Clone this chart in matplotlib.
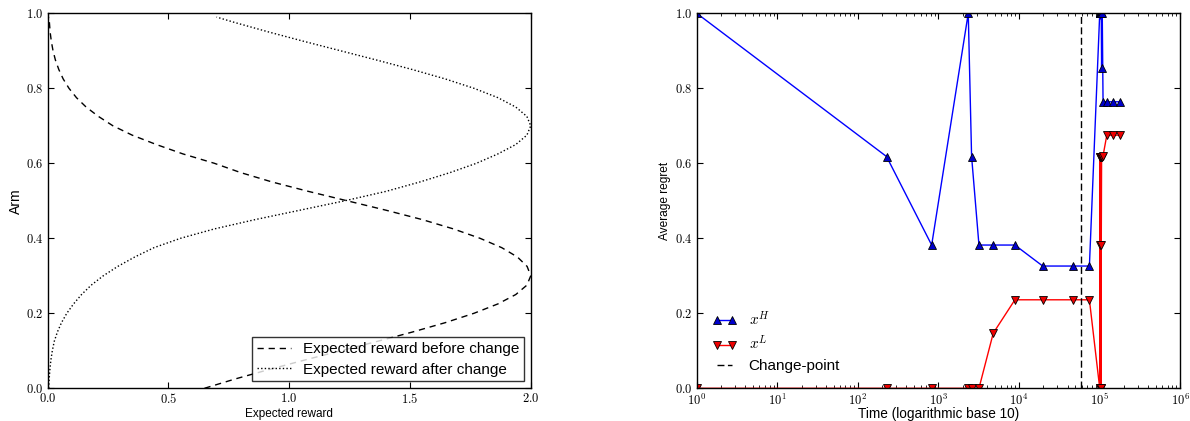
import numpy as np
import matplotlib
matplotlib.use('Agg')
import matplotlib.pyplot as plt
from matplotlib.ticker import FuncFormatter, FixedLocator, LogLocator, NullFormatter

plt.rcParams['font.family'] = 'Liberation Sans'
plt.rcParams['mathtext.fontset'] = 'cm'

# left panel: expected reward per arm
arm = [0.0, 0.025, 0.05, 0.075, 0.1, 0.125, 0.15, 0.175, 0.2, 0.225, 0.25, 0.275,
       0.3, 0.325, 0.35, 0.375, 0.4, 0.425, 0.45, 0.475, 0.5, 0.525, 0.55, 0.575,
       0.6, 0.625, 0.65, 0.675, 0.7, 0.725, 0.75, 0.775, 0.8, 0.825, 0.85, 0.875,
       0.9, 0.925, 0.95, 0.975, 0.99]
reward_before = [0.649, 0.777, 0.916, 1.062, 1.213, 1.364, 1.510, 1.646, 1.765, 1.864,
                 1.938, 1.984, 2.0, 1.985, 1.945, 1.88, 1.79, 1.68, 1.55, 1.40,
                 1.24, 1.08, 0.93, 0.80, 0.69, 0.56, 0.45, 0.35, 0.27, 0.21,
                 0.159, 0.119, 0.088, 0.064, 0.046, 0.032, 0.022, 0.015, 0.010, 0.007,
                 0.005]
reward_after = [0.004, 0.006, 0.009, 0.013, 0.019, 0.027, 0.040, 0.057, 0.079, 0.107,
                0.14, 0.18, 0.23, 0.29, 0.36, 0.44, 0.55, 0.69, 0.86, 1.045,
                1.23, 1.40, 1.54, 1.665, 1.775, 1.864, 1.938, 1.984, 2.0, 1.984,
                1.938, 1.864, 1.765, 1.646, 1.510, 1.364, 1.213, 1.062, 0.916, 0.777,
                0.699]

# right panel: average regret over time
time = [1, 227, 824, 2345, 2580, 3185, 4790, 8900, 19700, 47300, 74800,
        100500, 101000, 101500, 102000, 102500, 103000, 103500, 104000, 104500, 105000,
        106000, 108000, 110500, 123000, 148000, 180000]
regret_high = [1.0, 0.618, 0.382, 1.0, 0.618, 0.382, 0.382, 0.382, 0.326, 0.326, 0.326,
               1.0, 1.0, 1.0, 1.0, 1.0, 1.0, 1.0, 1.0, 1.0, 1.0,
               0.853, 1.0, 0.764, 0.764, 0.764, 0.764]
regret_low = [0.0, 0.0, 0.0, 0.0, 0.0, 0.0, 0.147, 0.236, 0.236, 0.236, 0.236,
              0.0, 0.618, 0.0, 0.382, 0.618, 0.0, 0.618, 0.0, 0.618, 0.382,
              0.618, 0.618, 0.62, 0.675, 0.675, 0.675]
change_point = 59000

fig = plt.figure(figsize=(11.9, 4.21), dpi=100)
ax1 = fig.add_axes([0.0401, 0.0777, 0.4059, 0.8907])
ax2 = fig.add_axes([0.5855, 0.0777, 0.4062, 0.8907])

cm_fmt = FuncFormatter(lambda v, p: f'${v:.1f}$')

ax1.plot(reward_before, arm, color='k', lw=1, dashes=(4.5, 3.5),
         label='Expected reward before change')
ax1.plot(reward_after, arm, color='k', lw=1, dashes=(1, 1.6),
         label='Expected reward after change')
ax1.set_xlim(0, 2.0)
ax1.set_ylim(0, 1.0)
ax1.xaxis.set_major_locator(FixedLocator([0.0, 0.5, 1.0, 1.5, 2.0]))
ax1.yaxis.set_major_locator(FixedLocator([0.0, 0.2, 0.4, 0.6, 0.8, 1.0]))
ax1.xaxis.set_major_formatter(cm_fmt)
ax1.yaxis.set_major_formatter(cm_fmt)
ax1.set_xlabel('Expected reward', fontsize=8.5, labelpad=1)
ax1.set_ylabel('Arm', fontsize=10, labelpad=2)
leg1 = ax1.legend(loc='lower right', fontsize=11, fancybox=False, handlelength=2.2,
                  borderpad=0.3, labelspacing=0.45, borderaxespad=0.45)
leg1.get_frame().set_edgecolor('k')
leg1.get_frame().set_linewidth(1)

ax2.plot(time, regret_high, color='b', lw=1, marker='^', markersize=5.5,
         markerfacecolor='#0000cc', markeredgecolor='k', markeredgewidth=0.6,
         label='$x^H$')
ax2.plot(time, regret_low, color='r', lw=1, marker='v', markersize=5.5,
         markerfacecolor='#ee0000', markeredgecolor='k', markeredgewidth=0.6,
         label='$x^L$')
ax2.axvline(change_point, color='k', lw=1, dashes=(5, 2.5), label='Change-point')
ax2.set_xscale('log')
ax2.set_xlim(1, 1e6)
ax2.set_ylim(0, 1.0)
ax2.xaxis.set_major_locator(FixedLocator([10.0 ** k for k in range(7)]))
ax2.xaxis.set_minor_locator(LogLocator(base=10, subs=np.arange(2, 10), numticks=20))
ax2.xaxis.set_minor_formatter(NullFormatter())
ax2.xaxis.set_major_formatter(FuncFormatter(lambda v, p: f'$10^{{{int(round(np.log10(v)))}}}$'))
ax2.yaxis.set_major_locator(FixedLocator([0.0, 0.2, 0.4, 0.6, 0.8, 1.0]))
ax2.yaxis.set_major_formatter(cm_fmt)
ax2.set_xlabel('Time (logarithmic base 10)', fontsize=9.8, labelpad=-1)
ax2.set_ylabel('Average regret', fontsize=8.6, labelpad=3)
ax2.legend(loc='lower left', fontsize=11, frameon=False, numpoints=2,
           handlelength=1.6, labelspacing=0.4, borderaxespad=0.6)

for ax in (ax1, ax2):
    ax.tick_params(which='both', direction='in', top=True, right=True, labelsize=9, pad=3)
    ax.tick_params(which='major', length=4, width=0.8)
    ax.tick_params(which='minor', length=2, width=0.6)
    for s in ax.spines.values():
        s.set_linewidth(1)

fig.savefig('out.png', dpi=100)
